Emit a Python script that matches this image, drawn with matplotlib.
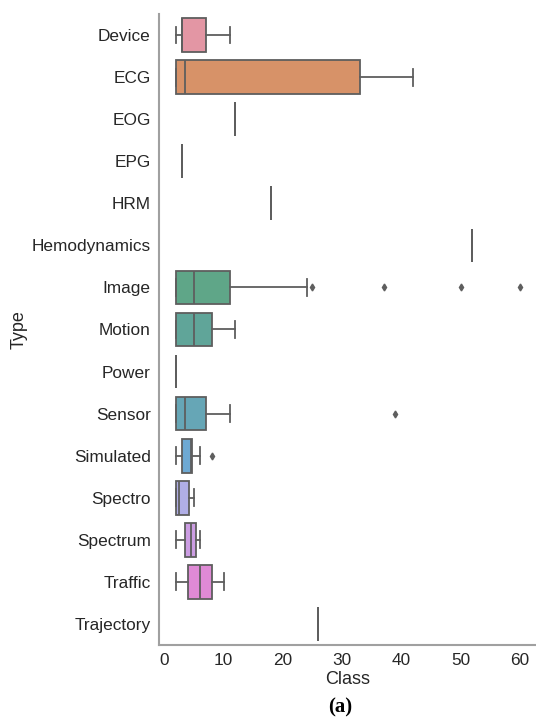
import matplotlib
matplotlib.use("Agg")
import matplotlib.pyplot as plt
import seaborn as sns

categories = ["Device", "ECG", "EOG", "EPG", "HRM", "Hemodynamics", "Image", "Motion",
              "Power", "Sensor", "Simulated", "Spectro", "Spectrum", "Traffic", "Trajectory"]
whis_lo = [2, 2, 12, 3, 18, 52, 2, 2, 2, 2, 2, 2, 2, 2, 26]
q1      = [3, 2, 12, 3, 18, 52, 2, 2, 2, 2, 3, 2, 3.5, 4, 26]
median  = [3, 3.5, 12, 3, 18, 52, 5, 5, 2, 3.5, 4.5, 2.5, 4.5, 6, 26]
q3      = [7, 33, 12, 3, 18, 52, 11, 8, 2, 7, 4.6, 4.2, 5.4, 8, 26]
whis_hi = [11, 42, 12, 3, 18, 52, 24, 12, 2, 11, 6, 5, 6, 10, 26]
outliers = [[], [], [], [], [], [], [25, 37, 50, 60], [], [], [39], [8], [], [], [], []]

plt.rcParams['font.family'] = ['Liberation Sans', 'DejaVu Sans']

fig = plt.figure(figsize=(5.36, 7.23), dpi=100)
ax = fig.add_axes([159/536, 1-645/723, (537-159)/536, (645-14)/723])

pal = sns.color_palette("husl", len(categories))
pal = [sns.desaturate(c, 0.65) for c in pal]
pal = [tuple(0.88 * v + 0.12 for v in c) for c in pal]

stats = []
for i, name in enumerate(categories):
    stats.append(dict(label=name, whislo=whis_lo[i], q1=q1[i], med=median[i],
                      q3=q3[i], whishi=whis_hi[i], fliers=outliers[i]))

line_col = "#5e5e5e"
positions = list(range(len(categories)))
bp = ax.bxp(stats, positions=positions, orientation='horizontal', widths=0.8,
            patch_artist=True, capwidths=0.4,
            boxprops=dict(edgecolor=line_col, linewidth=1.3),
            medianprops=dict(color=line_col, linewidth=1.3),
            whiskerprops=dict(color=line_col, linewidth=1.3),
            capprops=dict(color=line_col, linewidth=1.3),
            flierprops=dict(marker='d', markersize=3.5, markerfacecolor=line_col,
                            markeredgecolor=line_col))
for patch, c in zip(bp['boxes'], pal):
    patch.set_facecolor(c)

ax.set_ylim(len(categories) - 0.5, -0.5)
ax.set_xlim(-0.9, 62.9)
ax.set_xticks([0, 10, 20, 30, 40, 50, 60])
ax.set_yticks(positions)
ax.set_yticklabels(categories)
ax.tick_params(axis='both', length=0, labelsize=12.4, pad=6, colors='#262626')
ax.set_xlabel("Class", fontsize=13, labelpad=2, color='#262626')
ax.set_ylabel("Type", fontsize=13, labelpad=3, color='#262626')
for s in ['top', 'right']:
    ax.spines[s].set_visible(False)
for s in ['left', 'bottom']:
    ax.spines[s].set_color('#a0a0a0')
    ax.spines[s].set_linewidth(1.5)

fig.text(340/536, 1-707/723, "(a)", ha='center', va='center', fontsize=15,
         fontweight='bold', family=['Liberation Serif', 'DejaVu Serif'])

fig.savefig("out.png", dpi=100)
